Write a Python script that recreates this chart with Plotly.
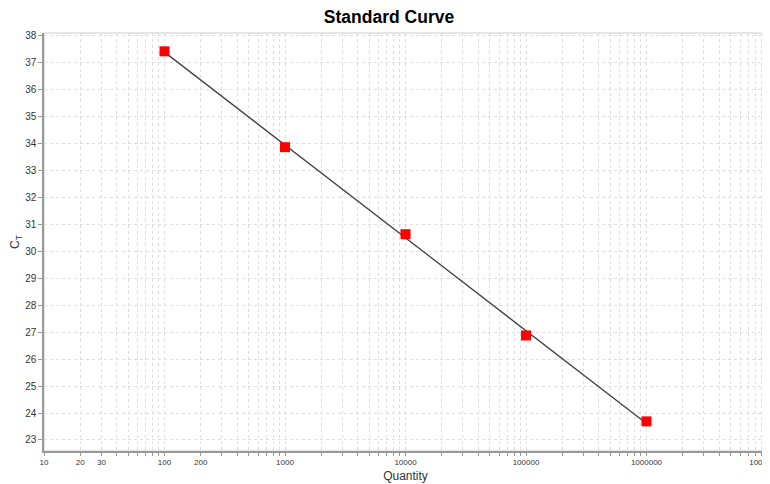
import numpy as np
import plotly.graph_objects as go

quantity = [100, 1000, 10000, 100000, 1000000]
ct = [37.43, 33.87, 30.64, 26.88, 23.69]
fit_quantity = [100, 1000000]
fit_ct = [37.40, 23.61]

labeled = {10: "10", 20: "20", 30: "30", 100: "100", 200: "200", 1000: "1000",
           10000: "10000", 100000: "100000", 1000000: "1000000", 10000000: "10000000"}

tickvals = []
ticktext = []
for d in range(1, 8):
    for m in range(1, 10):
        v = m * 10 ** d
        if v > 10 ** 7:
            break
        tickvals.append(v)
        ticktext.append(labeled.get(v, ""))

fig = go.Figure()
fig.add_trace(go.Scatter(x=fit_quantity, y=fit_ct, mode="lines",
                         line=dict(color="#404040", width=1.3),
                         showlegend=False, hoverinfo="skip"))
fig.add_trace(go.Scatter(x=quantity, y=ct, mode="markers",
                         marker=dict(symbol="square", color="#ff0000", size=10,
                                     line=dict(width=0)),
                         showlegend=False))

grid_dash = "3px,3px"
fig.update_layout(
    width=762, height=476,
    margin=dict(l=36, r=3, t=25, b=33, autoexpand=False),
    paper_bgcolor="white", plot_bgcolor="white",
    font=dict(family="Liberation Sans, Arial, sans-serif", color="#333333"),
    title=dict(text="<b>Standard Curve</b>", x=0.5, xanchor="center",
               y=0.981, yanchor="middle",
               font=dict(size=17.5, color="#000000")),
    xaxis=dict(type="log", range=[1, 7], tickvals=tickvals, ticktext=ticktext,
               tickfont=dict(size=8, color="#333333"), automargin=False,
               ticklabeloverflow="allow",
               showgrid=True, gridcolor="#dedede", griddash=grid_dash, gridwidth=1,
               showline=True, linecolor="#999999", linewidth=1.5, mirror=False,
               ticks="outside", ticklen=3, tickcolor="#999999",
               zeroline=False,
               title=dict(text="Quantity", font=dict(size=12, color="#333333"),
                          standoff=5)),
    yaxis=dict(range=[22.59, 38.11], dtick=1, tick0=23, automargin=False,
               tickfont=dict(size=10, color="#333333"),
               showgrid=True, gridcolor="#dedede", griddash=grid_dash, gridwidth=1,
               showline=True, linecolor="#999999", linewidth=1.5,
               ticks="outside", ticklen=4, tickcolor="#999999",
               zeroline=False,
               title=dict(text="C<sub>T</sub>", font=dict(size=12, color="#333333"),
                          standoff=6)),
)
fig.add_shape(type="rect", xref="paper", yref="paper", x0=0, y0=0, x1=1, y1=1,
              line=dict(color="#cccccc", width=1), layer="below")

fig.write_html("out.html")
